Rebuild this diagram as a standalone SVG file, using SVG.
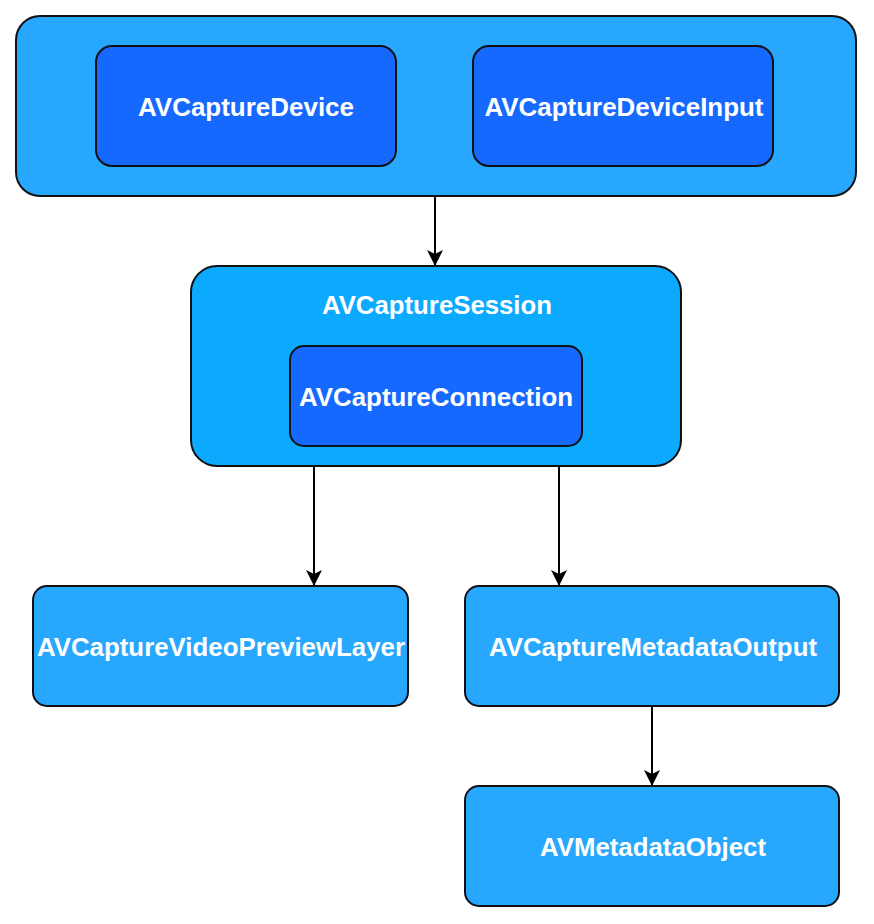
<svg xmlns="http://www.w3.org/2000/svg" width="874" height="924" viewBox="0 0 874 924">
<defs>
<style>
.box{stroke:#111;stroke-width:2}
.outer{fill:#27A7FD}
.inner{fill:#1569FF}
.sess{fill:#0BAAFF}
.lbl{font-family:"Liberation Sans",Arial,sans-serif;font-weight:bold;font-size:26px;fill:#fff;text-anchor:middle;dominant-baseline:central}
.edge{stroke:#000;stroke-width:2;fill:none}
</style>
<marker id="arr" viewBox="0 0 16 16" refX="16" refY="8" markerWidth="16" markerHeight="16" markerUnits="userSpaceOnUse" orient="auto">
<path d="M0,0 L16,8 L0,16 L4,8 z" fill="#000"/>
</marker>
</defs>
<rect width="874" height="924" fill="#fff"/>
<g id="device-group">
<rect class="box outer" x="16" y="16" width="840" height="180" rx="24"/>
</g>
<g id="avcapturedevice">
<rect class="box inner" x="96" y="46" width="300" height="120" rx="16"/>
<text class="lbl" x="246" y="107" textLength="216" lengthAdjust="spacingAndGlyphs">AVCaptureDevice</text>
</g>
<g id="avcapturedeviceinput">
<rect class="box inner" x="473" y="46" width="300" height="120" rx="16"/>
<text class="lbl" x="624" y="107" textLength="279" lengthAdjust="spacingAndGlyphs">AVCaptureDeviceInput</text>
</g>
<g id="avcapturesession">
<rect class="box sess" x="191" y="266" width="490" height="200" rx="26"/>
<text class="lbl" x="437" y="305" textLength="230" lengthAdjust="spacingAndGlyphs">AVCaptureSession</text>
</g>
<g id="avcaptureconnection">
<rect class="box inner" x="290" y="346" width="292" height="100" rx="14"/>
<text class="lbl" x="436" y="397" textLength="274" lengthAdjust="spacingAndGlyphs">AVCaptureConnection</text>
</g>
<g id="avcapturevideopreviewlayer">
<rect class="box outer" x="33" y="586" width="375" height="120" rx="14"/>
<text class="lbl" x="221" y="647" textLength="368" lengthAdjust="spacingAndGlyphs">AVCaptureVideoPreviewLayer</text>
</g>
<g id="avcapturemetadataoutput">
<rect class="box outer" x="465" y="586" width="374" height="120" rx="14"/>
<text class="lbl" x="653" y="647" textLength="328" lengthAdjust="spacingAndGlyphs">AVCaptureMetadataOutput</text>
</g>
<g id="avmetadataobject">
<rect class="box outer" x="465" y="786" width="374" height="120" rx="14"/>
<text class="lbl" x="653" y="847" textLength="226" lengthAdjust="spacingAndGlyphs">AVMetadataObject</text>
</g>
<g id="connectors">
<path class="edge" d="M435,196 V266" marker-end="url(#arr)"/>
<path class="edge" d="M314,466 V586" marker-end="url(#arr)"/>
<path class="edge" d="M559,466 V586" marker-end="url(#arr)"/>
<path class="edge" d="M652,706 V786" marker-end="url(#arr)"/>
</g>
</svg>
